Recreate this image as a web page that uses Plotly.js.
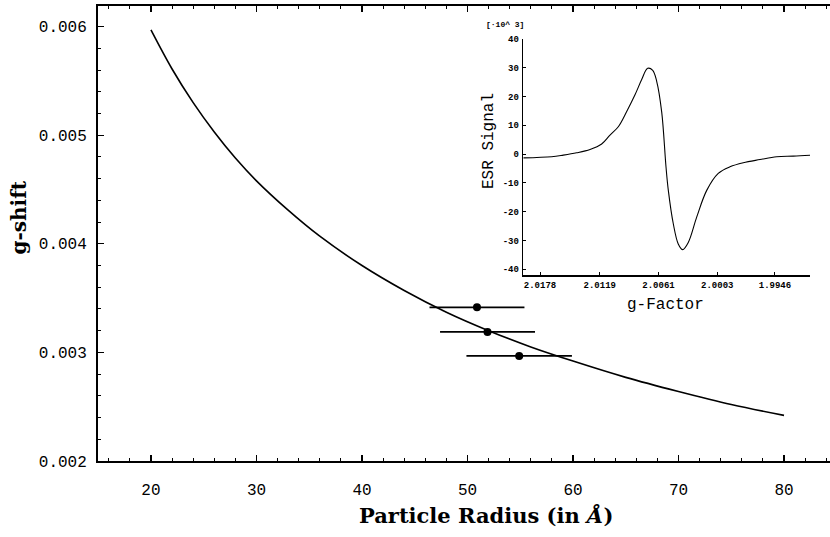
<!DOCTYPE html>
<html>
<head>
<meta charset="utf-8">
<script src="https://cdn.plot.ly/plotly-3.0.1.min.js"></script>
<style>html,body{margin:0;padding:0;background:#fff;overflow:hidden;}#chart{width:830px;height:537px;}</style>
</head>
<body>
<div id="chart"></div>
<script>
// Main fitted curve: g-shift vs particle radius
const curveRadius = [20, 22, 24, 26, 28, 30, 33, 36, 40, 44, 48, 52, 56, 60, 65, 70, 75, 80];
const curveShift  = [0.00597, 0.00561, 0.00530, 0.00503, 0.00479, 0.00458, 0.00431, 0.00407, 0.00380, 0.00357, 0.00337, 0.00320, 0.00305, 0.00292, 0.00277, 0.00264, 0.00252, 0.00242];

// Measured points with horizontal error bars
const pointRadius = [50.9, 51.9, 54.9];
const pointShift  = [0.003415, 0.003189, 0.002968];
const pointRadiusErr = [4.5, 4.5, 5.0];

// Inset ESR spectrum
const esrG = [2.01945, 2.01665, 2.0155, 2.01418, 2.01286, 2.01171, 2.01089, 2.01007, 2.00924, 2.00842, 2.00776, 2.00717, 2.00667, 2.00628, 2.00578, 2.00536, 2.00513, 2.00464, 2.00415, 2.00371, 2.00316, 2.00233, 2.00134, 2.0002, 1.99904, 1.99773, 1.99608, 1.99443, 1.99279, 1.99114];
const esrSignal = [-1.3, -0.9, -0.35, 0.45, 1.6, 3.5, 6.6, 9.5, 14.8, 20.6, 25.9, 29.8, 29.1, 25.3, 14.5, -4.4, -12.6, -24.2, -31.2, -33.2, -30.7, -21.9, -12.6, -6.7, -4.4, -3.0, -1.9, -0.9, -0.7, -0.4];

const insetXTicks = [2.0178, 2.0119, 2.0061, 2.0003, 1.9946];
const insetXTickText = ['2.0178', '2.0119', '2.0061', '2.0003', '1.9946'];
const insetYTicks = [-40, -30, -20, -10, 0, 10, 20, 30, 40];
const insetYTickText = ['-40', '-30', '-20', '-10', '0', '10', '20', '30', '40'];
const mainYTicks = [0.002, 0.003, 0.004, 0.005, 0.006];
const mainXTicks = [20, 30, 40, 50, 60, 70, 80];

const mono = 'Liberation Mono, Courier New, monospace';
const serif = 'DejaVu Serif, Liberation Serif, serif';

const traces = [
  {x: curveRadius, y: curveShift, mode: 'lines', type: 'scatter',
   line: {color: '#000', width: 1.6, shape: 'spline'}, xaxis: 'x', yaxis: 'y', hoverinfo: 'skip'},
  {x: pointRadius, y: pointShift, mode: 'markers', type: 'scatter',
   marker: {color: '#000', size: 8},
   error_x: {type: 'data', array: pointRadiusErr, visible: true, color: '#000', thickness: 1.6, width: 0},
   xaxis: 'x', yaxis: 'y'},
  {x: esrG, y: esrSignal, mode: 'lines', type: 'scatter',
   line: {color: '#000', width: 1.1, shape: 'spline'}, xaxis: 'x2', yaxis: 'y2'}
];

const layout = {
  width: 830, height: 537,
  margin: {l: 98, r: 0, t: 6, b: 76},
  paper_bgcolor: '#fff', plot_bgcolor: 'rgba(0,0,0,0)',
  showlegend: false,
  xaxis: {
    range: [14.98, 84.36], tickvals: mainXTicks, ticks: 'inside', ticklen: 6, tickwidth: 1.2, tickcolor: '#000',
    showline: true, linecolor: '#000', linewidth: 2, mirror: 'allticks', showgrid: false, zeroline: false,
    tickfont: {family: mono, size: 16, color: '#000'}, ticklabelstandoff: 13,
    minor: {dtick: 2, ticks: 'inside', ticklen: 3, tickcolor: '#000', tickwidth: 1, showgrid: false}
  },
  yaxis: {
    range: [0.002, 0.00619], tickvals: mainYTicks, tickformat: '.3f', ticks: 'inside', ticklen: 6, tickwidth: 1.2, tickcolor: '#000',
    showline: true, linecolor: '#000', linewidth: 2, mirror: false, showgrid: false, zeroline: false,
    tickfont: {family: mono, size: 16, color: '#000'}, ticklabelstandoff: 6,
    minor: {dtick: 0.0002, ticks: 'inside', ticklen: 3, tickcolor: '#000', tickwidth: 1, showgrid: false}
  },
  xaxis2: {
    domain: [0.581, 0.9727], anchor: 'y2', range: [2.01945, 1.99114],
    tickvals: insetXTicks, ticktext: insetXTickText, ticks: 'inside', ticklen: 3, tickcolor: '#000',
    showline: true, linecolor: '#000', linewidth: 1.6, showgrid: false, zeroline: false,
    tickfont: {family: mono, size: 9, color: '#000', weight: 'bold'}, ticklabelstandoff: 1
  },
  yaxis2: {
    domain: [0.4088, 0.9275], anchor: 'x2', range: [-42, 40],
    tickvals: insetYTicks, ticktext: insetYTickText, ticks: 'inside', ticklen: 3, tickcolor: '#000',
    showline: true, linecolor: '#000', linewidth: 1.6, showgrid: false, zeroline: false,
    tickfont: {family: mono, size: 9, color: '#000', weight: 'bold'}, ticklabelstandoff: 1
  },
  annotations: [
    {text: '<b>g-shift</b>', xref: 'paper', yref: 'paper', x: (18.5 - 98) / 732, y: (461 - 218) / 455,
     textangle: -90, showarrow: false, xanchor: 'center', yanchor: 'middle',
     font: {family: serif, size: 20, color: '#000'}},
    {text: '<b>Particle Radius (in <i>Å</i>)</b>', xref: 'paper', yref: 'paper', x: (486 - 98) / 732, y: (461 - 515) / 455,
     showarrow: false, xanchor: 'center', yanchor: 'middle',
     font: {family: serif, size: 21, color: '#000'}},
    {text: 'ESR Signal', xref: 'paper', yref: 'paper', x: (489 - 98) / 732, y: (461 - 141) / 455,
     textangle: -90, showarrow: false, xanchor: 'center', yanchor: 'middle',
     font: {family: mono, size: 16, color: '#000'}},
    {text: 'g-Factor', xref: 'paper', yref: 'paper', x: (665 - 98) / 732, y: (461 - 305) / 455,
     showarrow: false, xanchor: 'center', yanchor: 'middle',
     font: {family: mono, size: 16, color: '#000'}},
    {text: '<b>[·10^ 3]</b>', xref: 'paper', yref: 'paper', x: (505 - 98) / 732, y: (461 - 25) / 455,
     showarrow: false, xanchor: 'center', yanchor: 'middle',
     font: {family: mono, size: 8, color: '#000'}}
  ]
};

Plotly.newPlot('chart', traces, layout, {displayModeBar: false, staticPlot: true});
</script>
</body>
</html>
